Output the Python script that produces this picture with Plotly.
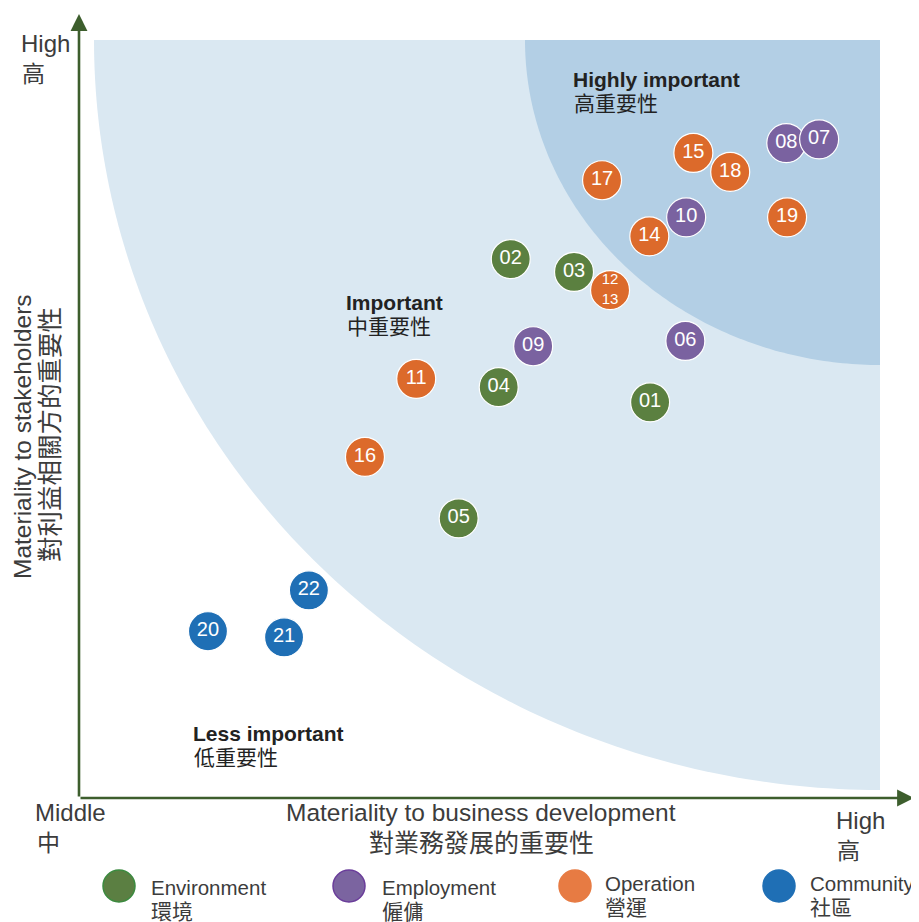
import numpy as np
import plotly.graph_objects as go

# ---------------- data ----------------
env_labels = ["01", "02", "03", "04", "05"]
env_x = [71.3, 53.9, 61.8, 52.4, 47.4]
env_y = [52.2, 71.1, 69.4, 54.2, 36.9]

ops_labels = ["11", "12<br>13", "17", "16", "14", "15", "18", "19"]
ops_x = [42.1, 66.3, 65.3, 35.7, 71.2, 76.7, 81.3, 88.4]
ops_y = [55.3, 67.0, 81.5, 45.0, 74.1, 85.1, 82.6, 76.6]

emp_labels = ["06", "09", "10", "08", "07"]
emp_x = [75.7, 56.7, 75.8, 88.3, 92.4]
emp_y = [60.3, 59.6, 76.6, 86.4, 86.9]

com_labels = ["20", "21", "22"]
com_x = [16.1, 25.6, 28.7]
com_y = [22.0, 21.2, 27.4]

legend_en = ["Environment", "Employment", "Operation", "Community"]
legend_zh = ["環境", "僱傭", "營運", "社區"]

# ---------------- style ----------------
OFF = 8  # page body margin
W, H = 911, 914
ML, MT = 79 - OFF, 40 - OFF
PW, PH = 880 - 79, 798 - 40
MR = W - ML - PW
MB = H - MT - PH
FONT = "Liberation Sans, Noto Sans CJK TC, sans-serif"
TXT = "#3c3c3c"
AXIS_GREEN = "#3d5e2d"
C_ENV, C_EMP, C_OPS, C_COM = "#5b8040", "#7a62a0", "#dc6a2b", "#1f6fb5"
LEG_FILL = ["#5b7f42", "#7b64a0", "#e77b43", "#1f6fb5"]
LEG_LINE = ["#3b8a3f", "#6a3d9a", "#e77b43", "#1f6fb5"]
LIGHT, DARK = "#dae8f2", "#b3cfe5"


def px2paper(px, py):
    return (px - OFF - ML) / PW, (H - MB - (py - OFF)) / PH


def quarter_ellipse(rx_px, ry_px):
    t = np.linspace(np.pi, 1.5 * np.pi, 120)
    rx = rx_px / PW * 100
    ry = ry_px / PH * 100
    xs = 100 + rx * np.cos(t)
    ys = 100 + ry * np.sin(t)
    return "M 100 100 " + " ".join(f"L {x:.3f} {y:.3f}" for x, y in zip(xs, ys)) + " Z"


fig = go.Figure()

shapes = [
    dict(type="path", path=quarter_ellipse(786, 750), xref="x", yref="y",
         fillcolor=LIGHT, line=dict(width=0), layer="below"),
    dict(type="path", path=quarter_ellipse(355, 325), xref="x", yref="y",
         fillcolor=DARK, line=dict(width=0), layer="below"),
]


def add_group(xs, ys, labels, color, name):
    sizes = [15 if "<br>" in l else 20 for l in labels]
    fig.add_trace(go.Scatter(
        x=xs, y=ys, mode="markers+text", text=labels, name=name,
        textposition="middle center",
        textfont=dict(color="white", size=sizes, family=FONT),
        marker=dict(size=39, color=color, line=dict(color="white", width=1.2)),
        hoverinfo="skip", showlegend=False, cliponaxis=False,
    ))


add_group(env_x, env_y, env_labels, C_ENV, "Environment")
add_group(ops_x, ops_y, ops_labels, C_OPS, "Operation")
add_group(emp_x, emp_y, emp_labels, C_EMP, "Employment")
add_group(com_x, com_y, com_labels, C_COM, "Community")

ann = []


def text(px, py, s, size=21, anchor="left", bold=False, color=TXT, angle=0):
    x, y = px2paper(px, py)
    ann.append(dict(x=x, y=y, xref="paper", yref="paper", text=f"<b>{s}</b>" if bold else s,
                    showarrow=False, xanchor=anchor, yanchor="middle", textangle=angle,
                    font=dict(family=FONT, size=size, color=color)))


# axis arrows
x0, y0 = px2paper(79, 798)
xt, _ = px2paper(914, 798)
ann.append(dict(x=xt, y=y0, xref="paper", yref="paper", ax=-(914 - 79), ay=0,
                text="", showarrow=True, arrowhead=2, arrowsize=1.3, arrowwidth=2.6,
                arrowcolor=AXIS_GREEN, standoff=0, startstandoff=0))
_, yt = px2paper(79, 14)
ann.append(dict(x=x0, y=yt, xref="paper", yref="paper", ax=0, ay=(798 - 14),
                text="", showarrow=True, arrowhead=2, arrowsize=1.3, arrowwidth=2.6,
                arrowcolor=AXIS_GREEN, standoff=0, startstandoff=0))

# axis end labels
text(19, 44, "High", 24)
text(20, 74, "高", 23)
text(33, 812, "Middle", 24)
text(35, 843, "中", 23)
text(834, 820, "High", 24)
text(835, 851, "高", 23)

# axis titles
text(481, 812, "Materiality to business development", 24.5, anchor="center")
text(481, 843, "對業務發展的重要性", 25, anchor="center")
text(22, 437, "Materiality to stakeholders", 24.5, anchor="center", angle=-90)
text(50, 435, "對利益相關方的重要性", 25.5, anchor="center", angle=-90)

# region labels
text(571, 79, "Highly important", 21, bold=True, color="#222222")
text(572, 103, "高重要性", 21, color="#222222")
text(344, 303, "Important", 21, bold=True, color="#222222")
text(345, 327, "中重要性", 21, color="#222222")
text(191, 733, "Less important", 21, bold=True, color="#222222")
text(192, 757, "低重要性", 21, color="#222222")

# custom legend
leg_cx = [119, 349, 575, 779]
leg_cy = [886, 886, 886, 886]
leg_tx = [149, 380, 603, 808]
leg_ty1 = [887, 887, 883, 883]
leg_ty2 = [911, 911, 907, 907]
for i in range(4):
    cx, cy = px2paper(leg_cx[i], leg_cy[i])
    rx, ry = 16 / PW, 16 / PH
    shapes.append(dict(type="circle", xref="paper", yref="paper",
                       x0=cx - rx, x1=cx + rx, y0=cy - ry, y1=cy + ry,
                       fillcolor=LEG_FILL[i], line=dict(color=LEG_LINE[i], width=1.5)))
    text(leg_tx[i], leg_ty1[i], legend_en[i], 20.5)
    text(leg_tx[i], leg_ty2[i], legend_zh[i], 21)

fig.update_layout(
    width=W, height=H,
    margin=dict(l=ML, r=MR, t=MT, b=MB, pad=0),
    paper_bgcolor="white", plot_bgcolor="white",
    xaxis=dict(range=[0, 100], visible=False, fixedrange=True),
    yaxis=dict(range=[0, 100], visible=False, fixedrange=True),
    shapes=shapes, annotations=ann, showlegend=False,
    font=dict(family=FONT, color=TXT),
)

fig.write_html("out.html")
